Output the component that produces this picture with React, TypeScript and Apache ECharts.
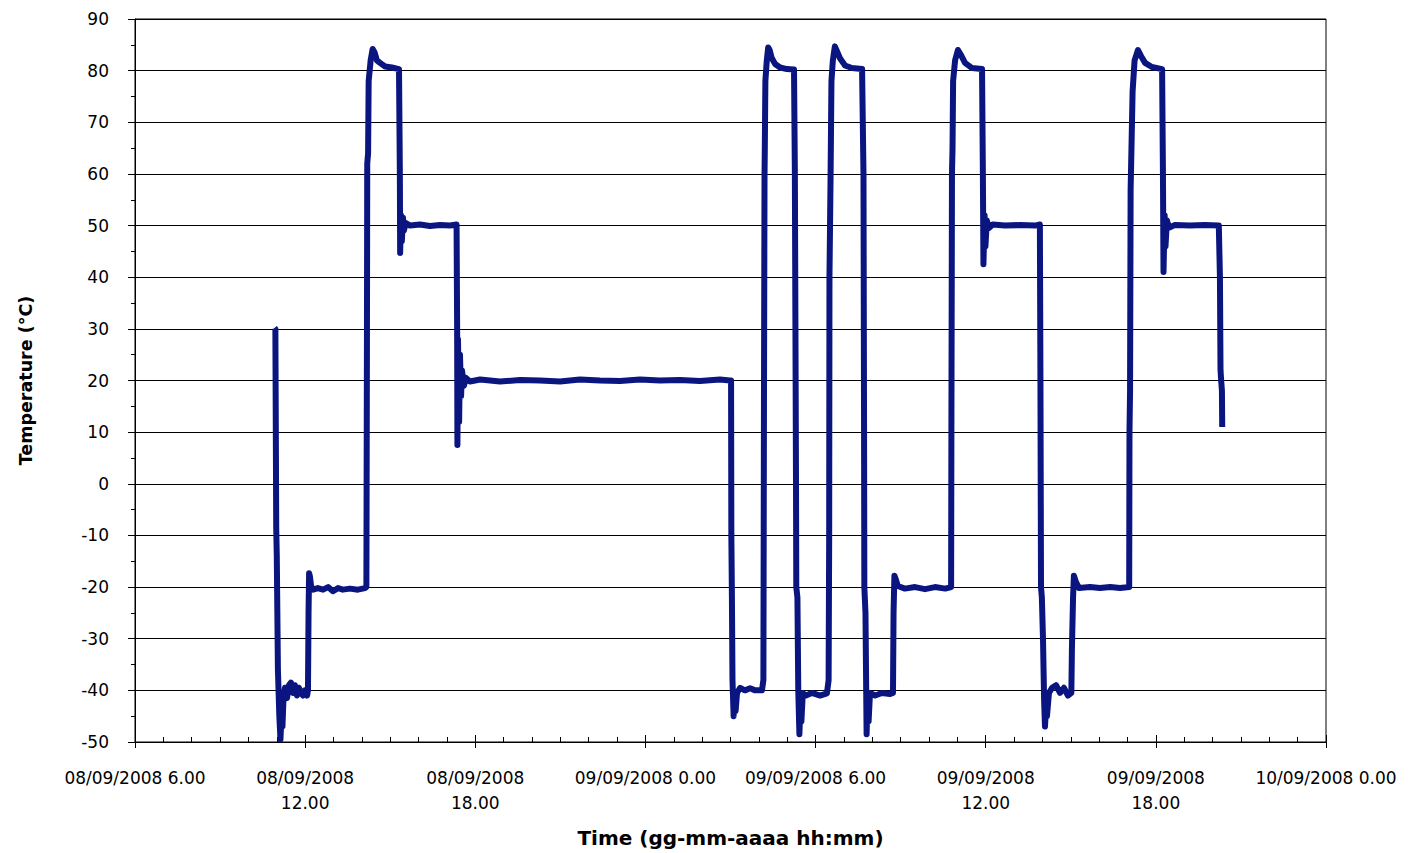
import React, { useEffect, useRef } from "react";
import * as echarts from "echarts";

// x tick labels (every 6 hours, from 08/09/2008 6.00 to 10/09/2008 0.00)
const xTickLabels = [
  "08/09/2008 6.00",
  "08/09/2008\n12.00",
  "08/09/2008\n18.00",
  "09/09/2008 0.00",
  "09/09/2008 6.00",
  "09/09/2008\n12.00",
  "09/09/2008\n18.00",
  "10/09/2008 0.00",
];

// time in hours since 08/09/2008 0.00
const timeHours = [
  10.92, 10.95, 10.97, 10.98, 11.0, 11.04, 11.09, 11.13, 11.17, 11.2, 11.24, 11.29, 11.36, 11.43, 11.5, 11.57,
  11.64, 11.71, 11.78, 11.85, 11.92, 11.99, 12.07, 12.1, 12.12, 12.14, 12.17, 12.21, 12.28, 12.45, 12.63, 12.81,
  12.98, 13.16, 13.33, 13.58, 13.86, 14.11, 14.16,
  14.18, 14.19, 14.22, 14.24, 14.31, 14.38, 14.45, 14.53, 14.64, 14.82, 15.06, 15.31,
  15.34, 15.35, 15.38, 15.41, 15.45, 15.48, 15.55, 15.7, 16.05, 16.4, 16.76, 17.11, 17.34,
  17.36, 17.37, 17.39, 17.43, 17.46, 17.5, 17.53, 17.6, 17.67, 17.81, 18.17, 18.87, 19.58, 20.28, 20.99, 21.69,
  22.4, 23.1, 23.81, 24.51, 25.22, 25.92, 26.63, 26.98,
  27.02, 27.03, 27.05, 27.07, 27.11, 27.14, 27.18, 27.23, 27.34, 27.51, 27.69, 27.87, 28.11,
  28.16, 28.18, 28.2, 28.21, 28.23, 28.28, 28.33, 28.38, 28.45, 28.57, 28.75, 28.99, 29.24,
  29.27, 29.29, 29.31, 29.32, 29.36, 29.39, 29.43, 29.47, 29.5, 29.55, 29.66, 29.87, 30.16, 30.4,
  30.46, 30.48, 30.49, 30.53, 30.56, 30.61, 30.68, 30.75, 30.86, 31.04, 31.28, 31.64,
  31.69, 31.71, 31.72, 31.76, 31.8, 31.83, 31.87, 31.92, 32.1, 32.34, 32.63, 32.73,
  32.75, 32.78, 32.83, 32.9, 33.15, 33.51, 33.86, 34.21, 34.57, 34.78,
  34.79, 34.81, 34.83, 34.85, 34.92, 35.02, 35.13, 35.27, 35.52, 35.87,
  35.9, 35.92, 35.96, 35.99, 36.04, 36.11, 36.25, 36.68, 37.21, 37.74, 37.91,
  37.93, 37.95, 37.98, 38.02, 38.06, 38.09, 38.13, 38.16, 38.23, 38.34, 38.48, 38.62, 38.76, 38.9, 39.02,
  39.04, 39.08, 39.11, 39.18, 39.29, 39.68, 40.03, 40.39, 40.74, 41.06,
  41.07, 41.09, 41.11, 41.14, 41.18, 41.25, 41.37, 41.48, 41.62, 41.86, 42.22,
  42.25, 42.27, 42.31, 42.34, 42.39, 42.46, 42.67, 43.2, 43.73, 44.22,
  44.26, 44.28, 44.31, 44.33, 44.34,
];

// temperature in °C
const temperature = [
  30.2, 30, 5, -8.4, -14, -36, -45, -49.5, -44, -47, -41, -39.5, -41.5, -39, -38.5, -40.5,
  -39, -41, -39.5, -40.5, -41, -40, -41, -40, -25, -17.3, -18, -19.8, -20.5, -20.2, -20.5, -20,
  -20.8, -20.2, -20.5, -20.3, -20.5, -20.2, -20,
  30, 62, 64, 78, 82, 84.2, 83.5, 82, 81.5, 80.8, 80.6, 80.3,
  60, 44.7, 52, 47, 51.5, 49, 50.5, 50, 50.2, 49.9, 50.1, 50, 50.2,
  30, 7.5, 28, 12, 25, 17, 22, 19, 20.5, 19.8, 20.2, 19.8, 20.1, 20, 19.8, 20.2,
  20, 19.9, 20.2, 20, 20.1, 19.9, 20.2, 20,
  20, -10, -22, -38, -45, -41, -44, -40.5, -39.5, -40, -39.6, -40, -40,
  -38, 15, 60, 65, 78, 82, 84.5, 84, 82.5, 81.3, 80.6, 80.3, 80.2,
  60, 30, 0, -20, -22, -40, -48.5, -42, -46, -40.5, -41, -40.5, -41, -40.6,
  -38, -10, 40, 60, 78, 82, 84.7, 83.8, 82.4, 81, 80.5, 80.3,
  60, 10, -20, -25, -48.5, -42, -46, -40.5, -41, -40.5, -40.7, -40.5,
  -25, -17.8, -18.5, -19.8, -20.3, -20, -20.4, -20, -20.3, -20,
  10, 60, 65, 78, 82, 84, 83, 81.5, 80.5, 80.3,
  60, 42.5, 52, 46, 51, 49.5, 50.2, 50, 50.1, 50, 50.2,
  20, -20, -22, -30, -42, -47, -43, -45, -40.5, -39.5, -39, -40.5, -39.5, -41, -40.5,
  -32, -22, -17.8, -19, -20.2, -20, -20.2, -20, -20.2, -20,
  10, 18, 57, 65, 76, 82, 84, 82.8, 81.5, 80.7, 80.3,
  60, 41, 52, 46, 51, 49.6, 50.1, 50, 50.1, 50,
  40, 22, 19.5, 18, 11,
];

export default function App() {
  const ref = useRef<HTMLDivElement>(null);

  useEffect(() => {
    document.body.style.margin = "0";
    const chart = echarts.init(ref.current as HTMLDivElement, null, { renderer: "svg" });
    const data = timeHours.map((t, i) => [t, temperature[i]]);
    const black = "#000";
    const xCommon = { type: "value", min: 6, max: 48, interval: 6, gridIndex: 0 };
    const yCommon = { type: "value", min: -50, max: 90, interval: 10, gridIndex: 0 };

    chart.setOption({
      animation: false,
      backgroundColor: "#fff",
      grid: {
        left: 135,
        right: 82,
        top: 19,
        bottom: 111,
        show: true,
        borderColor: black,
        borderWidth: 1,
        backgroundColor: "transparent",
      },
      xAxis: [
        {
          ...xCommon,
          position: "bottom",
          axisLine: { onZero: false, lineStyle: { color: black, width: 1 } },
          axisTick: { inside: true, length: 7, lineStyle: { color: black, width: 1 } },
          minorTick: { show: true, splitNumber: 6, length: 5, lineStyle: { color: black, width: 1 } },
          splitLine: { show: false },
          axisLabel: {
            formatter: (v: number) => xTickLabels[Math.round((v - 6) / 6)] ?? "",
            margin: 23,
            color: black,
            fontFamily: "DejaVu Sans",
            fontSize: 17,
            lineHeight: 25,
            align: "center",
          },
          name: "Time (gg-mm-aaaa hh:mm)",
          nameLocation: "middle",
          nameGap: 86,
          nameTextStyle: { fontFamily: "DejaVu Sans", fontWeight: "bold", fontSize: 20, color: black },
        },
        {
          ...xCommon,
          position: "bottom",
          axisLine: { show: false, onZero: false },
          axisTick: { inside: false, length: 6, lineStyle: { color: black, width: 1 } },
          axisLabel: { show: false },
          splitLine: { show: false },
        },
      ],
      yAxis: [
        {
          ...yCommon,
          position: "left",
          axisLine: { show: true, onZero: false, lineStyle: { color: black, width: 1 } },
          axisTick: { show: true, inside: false, length: 7, lineStyle: { color: black, width: 1 } },
          minorTick: { show: true, splitNumber: 2, length: 4, lineStyle: { color: black, width: 1 } },
          splitLine: { show: true, lineStyle: { color: black, width: 1 } },
          axisLabel: { margin: 26, color: black, fontFamily: "DejaVu Sans", fontSize: 17 },
          name: "Temperature (°C)",
          nameLocation: "middle",
          nameGap: 100,
          nameTextStyle: { fontFamily: "DejaVu Sans", fontWeight: "bold", fontSize: 17.5, color: black },
        },
      ],
      series: [
        {
          type: "line",
          xAxisIndex: 0,
          yAxisIndex: 0,
          data,
          showSymbol: false,
          symbol: "none",
          lineStyle: { color: "#0a1580", width: 6, join: "round" },
          clip: true,
        },
      ],
    });
    return () => chart.dispose();
  }, []);

  return <div ref={ref} style={{ position: "absolute", left: 0, top: 0, width: 1408, height: 853 }} />;
}
